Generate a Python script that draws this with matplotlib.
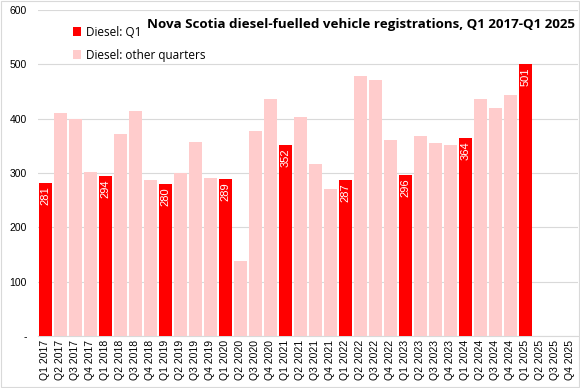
import numpy as np
import matplotlib
matplotlib.use("Agg")
import matplotlib.pyplot as plt
from matplotlib.patches import Rectangle

plt.rcParams['font.family'] = ['Liberation Sans', 'DejaVu Sans']

quarters = [f"Q{q} {y}" for y in range(2017, 2026) for q in range(1, 5)]

# Q1 values (labelled in the chart)
q1_values = [281, 294, 280, 289, 352, 287, 296, 364, 501]

# other quarters (Q2, Q3, Q4 for each year; 2025 not yet reported)
other_values = [
    410, 400, 302,   # 2017
    371, 415, 288,   # 2018
    300, 358, 291,   # 2019
    139, 377, 437,   # 2020
    404, 317, 270,   # 2021
    478, 472, 360,   # 2022
    368, 355, 351,   # 2023
    436, 420, 444,   # 2024
    np.nan, np.nan, np.nan,  # 2025
]

q1_series = np.full(len(quarters), np.nan)
other_series = np.full(len(quarters), np.nan)
q1_series[0::4] = q1_values
mask = np.ones(len(quarters), bool)
mask[0::4] = False
other_series[mask] = other_values

x = np.arange(len(quarters))

fig = plt.figure(figsize=(5.8, 3.88), dpi=100)
ax = fig.add_axes([0.0655, 0.134, 0.931, 0.84])

ax.bar(x, q1_series, width=0.82, color='#FF0000', label='Diesel: Q1', zorder=3)
ax.bar(x, other_series, width=0.82, color='#FFCCCC', label='Diesel: other quarters', zorder=3)

for xi, v in zip(x[0::4], q1_values):
    ax.text(xi, v - 6, f"{v}", rotation=90, ha='center', va='top',
            color='white', fontsize=8)

ax.set_xlim(-0.5, len(quarters) - 0.5)
ax.set_ylim(0, 600)
ax.set_yticks(range(0, 601, 100))
ax.set_yticklabels(['-'] + [str(v) for v in range(100, 601, 100)], fontsize=7.5)
ax.set_xticks(x)
ax.set_xticklabels(quarters, rotation=90, fontsize=7.5)
ax.tick_params(length=0, pad=3)
ax.tick_params(axis='y', pad=8)

ax.grid(axis='y', color='#D9D9D9', linewidth=0.8, zorder=0)
for s in ['top', 'right', 'left']:
    ax.spines[s].set_visible(False)
ax.spines['bottom'].set_color('#D9D9D9')

ax.text(0.995, 0.955, "Nova Scotia diesel-fuelled vehicle registrations, Q1 2017-Q1 2025",
        transform=ax.transAxes, ha='right', va='center', fontsize=9.6,
        fontweight='bold', family=['Open Sans', 'DejaVu Sans'])

ax.legend(loc='upper left', bbox_to_anchor=(0.045, 0.985), frameon=False,
          handlelength=0.7, handleheight=0.7, labelspacing=0.85,
          handletextpad=0.4, prop={'family': 'Open Sans', 'size': 8.5})

fig.patches.append(Rectangle((0.002, 0.003), 0.996, 0.994, transform=fig.transFigure,
                             fill=False, edgecolor='#D9D9D9', linewidth=0.8))

fig.savefig('out.png', dpi=100)
